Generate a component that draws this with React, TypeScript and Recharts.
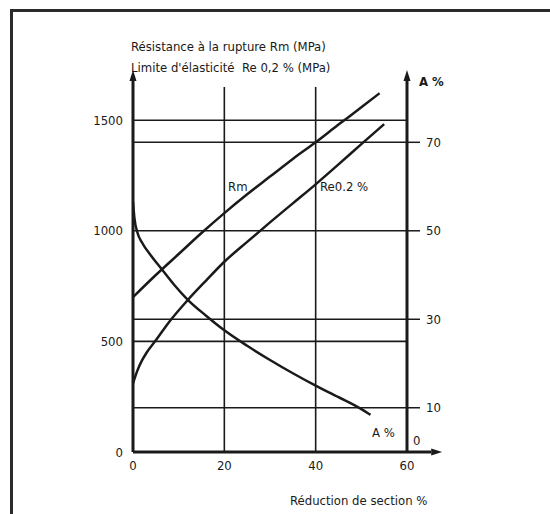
import React from "react";
import {
  ComposedChart,
  Line,
  XAxis,
  YAxis,
  ReferenceLine,
} from "recharts";

// Rm (MPa) vs reduction of section (%)
const rmReduction = [0, 5, 10, 15, 20, 25, 30, 35, 40, 45, 50, 54];
const rmValues = [700, 800, 895, 990, 1080, 1165, 1245, 1325, 1400, 1480, 1558, 1622];

// Re 0,2 % (MPa)
const reReduction = [0, 1, 2, 3, 5, 8, 12, 16, 20, 25, 30, 35, 40, 45, 50, 55];
const reValues = [310, 370, 415, 450, 505, 590, 687, 775, 860, 950, 1038, 1124, 1210, 1300, 1392, 1482];

// A % (right axis)
const aReduction = [0, 0.3, 1, 2, 4, 6, 9, 12, 16, 20, 25, 30, 35, 40, 45, 50, 52];
const aValues = [56.5, 53, 49.5, 47.3, 44.3, 41.7, 37.8, 34.4, 30.8, 27.5, 24, 20.8, 17.8, 15, 12.4, 9.7, 8.4];

const xTicks = [0, 20, 40, 60];
const leftTicks = [0, 500, 1000, 1500];
const rightTicks = [10, 30, 50, 70];
const hLines = [1500, 1400, 1000, 600, 500, 200];
const vLines = [20, 40];

const rmData = rmReduction.map((x, i) => ({ x, v: rmValues[i] }));
const reData = reReduction.map((x, i) => ({ x, v: reValues[i] }));
const aData = aReduction.map((x, i) => ({ x, v: aValues[i] }));

const FONT = '"Liberation Sans Narrow", "DejaVu Sans Condensed", "Liberation Sans", Arial, sans-serif';
const INK = "#1a1a1a";

const arrowLine = (p: any) => {
  const { x1, y1, x2, y2 } = p;
  const dx = x2 - x1;
  const dy = y2 - y1;
  const len = Math.sqrt(dx * dx + dy * dy) || 1;
  const ux = dx / len;
  const uy = dy / len;
  const hl = 11;
  const hw = 3.5;
  const bx = x2 - ux * hl;
  const by = y2 - uy * hl;
  const pts = `${x2},${y2} ${bx - uy * hw},${by + ux * hw} ${bx + uy * hw},${by - ux * hw}`;
  return (
    <g>
      <line x1={x1} y1={y1} x2={bx} y2={by} stroke={INK} strokeWidth={3} />
      <polygon points={pts} fill={INK} />
    </g>
  );
};

const Txt = ({ x, y, children, size = 13, bold = false }: any) => (
  <div
    style={{
      position: "absolute",
      left: x,
      top: y,
      transform: "translateY(-50%)",
      fontFamily: FONT,
      fontSize: size,
      lineHeight: 1,
      whiteSpace: "nowrap",
      color: INK,
      fontWeight: bold ? 700 : 400,
    }}
  >
    {children}
  </div>
);

export default function App() {
  return (
    <div style={{ position: "absolute", left: 0, top: 0, width: 550, height: 514, background: "#fff", overflow: "hidden" }}>
      <div
        style={{
          position: "absolute",
          left: 10,
          top: 9,
          width: 560,
          height: 520,
          borderTop: "3px solid #2a2a2a",
          borderLeft: "3px solid #2a2a2a",
        }}
      />
      <ComposedChart
        width={550}
        height={514}
        margin={{ top: 87, right: 93, bottom: 32, left: 93 }}
        style={{ position: "absolute", left: 0, top: 0 }}
      >
        <XAxis
          type="number"
          dataKey="x"
          domain={[0, 60]}
          ticks={xTicks}
          allowDataOverflow
          axisLine={false}
          tickLine={false}
          tickSize={0}
          tickMargin={9}
          height={30}
          tick={{ fill: INK, fontSize: 13, fontFamily: FONT }}
        />
        <YAxis
          yAxisId="left"
          type="number"
          domain={[0, 1650]}
          ticks={leftTicks}
          allowDataOverflow
          axisLine={false}
          tickLine={false}
          tickSize={0}
          tickMargin={10}
          width={40}
          tick={{ fill: INK, fontSize: 13, fontFamily: FONT }}
        />
        <YAxis
          yAxisId="right"
          orientation="right"
          type="number"
          domain={[0, 82.5]}
          ticks={rightTicks}
          allowDataOverflow
          axisLine={false}
          tickLine={{ stroke: INK, strokeWidth: 1.5 }}
          tickSize={13}
          tickMargin={6}
          width={50}
          tick={{ fill: INK, fontSize: 13, fontFamily: FONT }}
        />

        {hLines.map((v) => (
          <ReferenceLine key={"h" + v} yAxisId="left" y={v} stroke={INK} strokeWidth={1.6} />
        ))}
        {vLines.map((v) => (
          <ReferenceLine key={"v" + v} yAxisId="left" x={v} stroke={INK} strokeWidth={1.6} />
        ))}

        <ReferenceLine
          yAxisId="left"
          segment={[{ x: 0, y: 0 }, { x: 0, y: 1727 }]}
          ifOverflow="visible"
          shape={arrowLine}
        />
        <ReferenceLine
          yAxisId="left"
          segment={[{ x: 60, y: 0 }, { x: 60, y: 1727 }]}
          ifOverflow="visible"
          shape={arrowLine}
        />
        <ReferenceLine
          yAxisId="left"
          segment={[{ x: 0, y: 0 }, { x: 67.7, y: 0 }]}
          ifOverflow="visible"
          shape={arrowLine}
        />

        <Line
          yAxisId="left"
          data={rmData}
          dataKey="v"
          type="monotone"
          stroke={INK}
          strokeWidth={2.5}
          dot={false}
          isAnimationActive={false}
        />
        <Line
          yAxisId="left"
          data={reData}
          dataKey="v"
          type="monotone"
          stroke={INK}
          strokeWidth={2.5}
          dot={false}
          isAnimationActive={false}
        />
        <Line
          yAxisId="right"
          data={aData}
          dataKey="v"
          type="monotone"
          stroke={INK}
          strokeWidth={2.5}
          dot={false}
          isAnimationActive={false}
        />
      </ComposedChart>

      <Txt x={131} y={46}>Résistance à la rupture Rm (MPa)</Txt>
      <Txt x={131} y={67}>Limite d'élasticité&nbsp; Re 0,2 % (MPa)</Txt>
      <Txt x={419} y={81} bold>A %</Txt>
      <Txt x={228} y={186}>Rm</Txt>
      <Txt x={320} y={186}>Re0.2 %</Txt>
      <Txt x={372} y={432}>A %</Txt>
      <Txt x={413} y={440}>0</Txt>
      <Txt x={290} y={500}>Réduction de section %</Txt>
    </div>
  );
}
